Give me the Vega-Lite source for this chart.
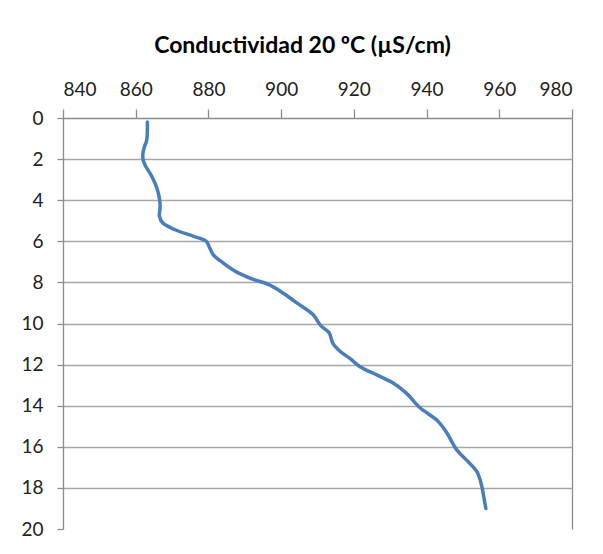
{
  "$schema": "https://vega.github.io/schema/vega-lite/v6.json",
  "autosize": "none",
  "width": 509,
  "height": 411,
  "padding": {"left": 63, "top": 118, "right": 31, "bottom": 25},
  "background": "white",
  "title": {
    "text": "Conductividad 20 ºC (µS/cm)",
    "font": "Lato",
    "fontSize": 23,
    "fontWeight": "bold",
    "color": "#000000",
    "anchor": "middle",
    "dx": -15,
    "offset": 22
  },
  "config": {
    "view": {"stroke": null},
    "axis": {
      "labelFont": "Lato",
      "labelFontSize": 19,
      "labelColor": "#222222",
      "domainColor": "#8c8c8c",
      "tickColor": "#8c8c8c",
      "domainWidth": 1.3,
      "tickWidth": 1.3,
      "gridColor": "#a6a6a6",
      "gridWidth": 1.3,
      "title": null
    }
  },
  "data": {
    "values": [
      {"depth": 0.2, "cond": 863.2},
      {"depth": 0.6, "cond": 863.2},
      {"depth": 1.1, "cond": 863.0},
      {"depth": 1.4, "cond": 862.4},
      {"depth": 1.7, "cond": 862.0},
      {"depth": 2.0, "cond": 862.0},
      {"depth": 2.3, "cond": 862.6},
      {"depth": 2.8, "cond": 864.3},
      {"depth": 3.4, "cond": 865.8},
      {"depth": 4.0, "cond": 866.6},
      {"depth": 4.4, "cond": 866.7},
      {"depth": 4.75, "cond": 866.5},
      {"depth": 5.1, "cond": 867.4},
      {"depth": 5.45, "cond": 871.0},
      {"depth": 5.75, "cond": 875.8},
      {"depth": 6.0, "cond": 879.4},
      {"depth": 6.3, "cond": 880.3},
      {"depth": 6.65, "cond": 881.3},
      {"depth": 7.05, "cond": 884.0},
      {"depth": 7.5, "cond": 887.8},
      {"depth": 7.85, "cond": 892.3},
      {"depth": 8.1, "cond": 896.5},
      {"depth": 8.5, "cond": 900.4},
      {"depth": 9.0, "cond": 904.3},
      {"depth": 9.55, "cond": 908.7},
      {"depth": 10.1, "cond": 910.9},
      {"depth": 10.45, "cond": 913.2},
      {"depth": 10.95, "cond": 914.2},
      {"depth": 11.35, "cond": 916.2},
      {"depth": 11.7, "cond": 918.9},
      {"depth": 12.1, "cond": 921.7},
      {"depth": 12.5, "cond": 926.3},
      {"depth": 12.9, "cond": 930.8},
      {"depth": 13.4, "cond": 934.5},
      {"depth": 14.1, "cond": 938.2},
      {"depth": 14.7, "cond": 942.8},
      {"depth": 15.3, "cond": 945.5},
      {"depth": 16.15, "cond": 948.3},
      {"depth": 16.65, "cond": 951.0},
      {"depth": 17.2, "cond": 953.8},
      {"depth": 17.85, "cond": 955.1},
      {"depth": 18.5, "cond": 955.8},
      {"depth": 19.0, "cond": 956.3}
    ]
  },
  "mark": {
    "type": "line",
    "color": "#4a7ebb",
    "strokeWidth": 3.5,
    "strokeCap": "round",
    "strokeJoin": "round",
    "interpolate": "catmull-rom"
  },
  "encoding": {
    "x": {
      "field": "cond",
      "type": "quantitative",
      "scale": {"domain": [840, 980], "nice": false, "zero": false},
      "axis": {
        "orient": "top",
        "values": [840, 860, 880, 900, 920, 940, 960, 980],
        "tickSize": 9,
        "labelPadding": 10,
        "grid": true,
        "gridOpacity": {"condition": {"test": "datum.value == 980", "value": 1}, "value": 0},
        "gridColor": "#8c8c8c"
      }
    },
    "y": {
      "field": "depth",
      "type": "quantitative",
      "scale": {"domain": [0, 20], "reverse": true, "nice": false, "zero": false},
      "axis": {
        "values": [0, 2, 4, 6, 8, 10, 12, 14, 16, 18, 20],
        "tickSize": 6,
        "labelPadding": 14,
        "grid": true,
        "gridOpacity": {"condition": {"test": "datum.value == 20 || datum.value == 0", "value": 0}, "value": 1}
      }
    },
    "order": {"field": "depth", "type": "quantitative"}
  }
}
